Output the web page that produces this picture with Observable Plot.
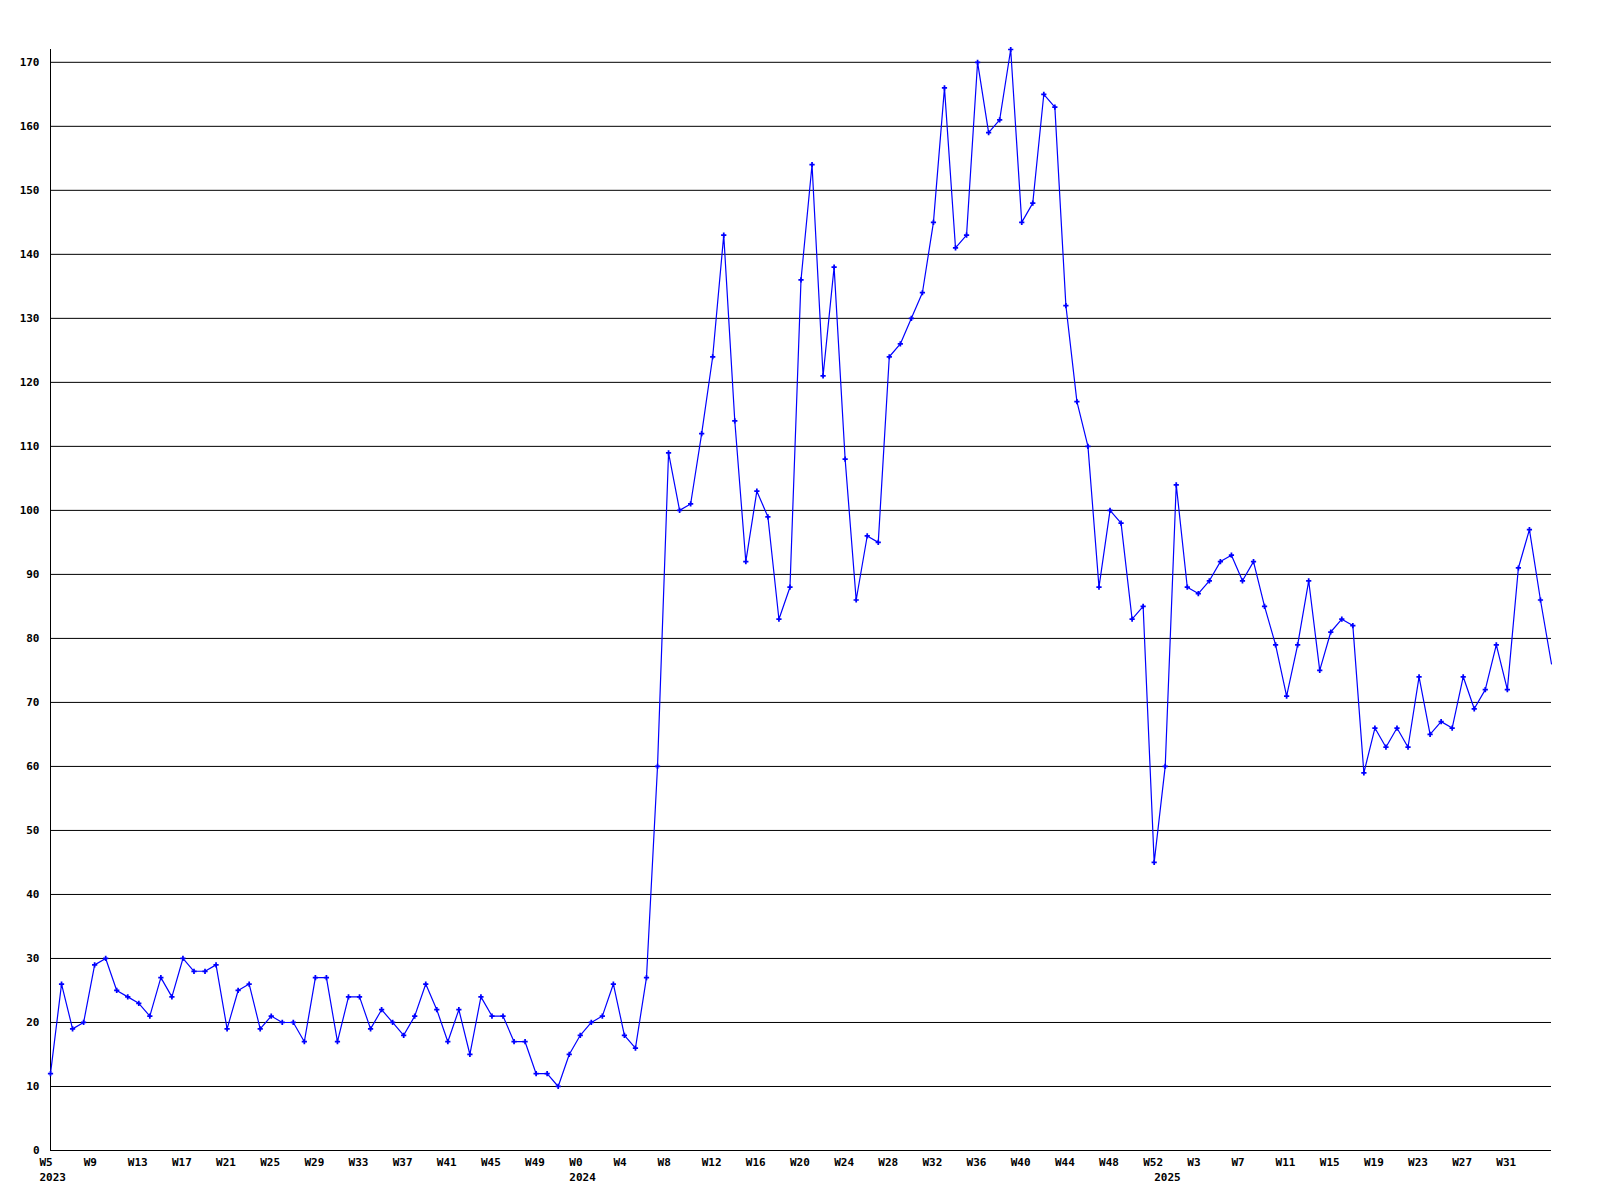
<!DOCTYPE html>
<html>
<head>
<meta charset="utf-8">
<script src="https://cdn.jsdelivr.net/npm/d3@7"></script>
<script src="https://cdn.jsdelivr.net/npm/@observablehq/plot@0.6"></script>
<style>
  html, body { margin: 0; padding: 0; background: #ffffff; }
  #chart svg { display: block; }
</style>
</head>
<body>
<div id="chart"></div>
<script>
// Weekly values, 2023 W5 .. W52
const values2023 = [12, 26, 19, 20, 29, 30, 25, 24, 23, 21, 27, 24, 30, 28, 28, 29, 19, 25, 26, 19,
  21, 20, 20, 17, 27, 27, 17, 24, 24, 19, 22, 20, 18, 21, 26, 22, 17, 22, 15, 24,
  21, 21, 17, 17, 12, 12, 10, 15];
// 2024 W0 .. W52
const values2024 = [18, 20, 21, 26, 18, 16, 27, 60, 109, 100, 101, 112, 124, 143, 114, 92, 103, 99, 83, 88,
  136, 154, 121, 138, 108, 86, 96, 95, 124, 126, 130, 134, 145, 166, 141, 143, 170, 159, 161, 172,
  145, 148, 165, 163, 132, 117, 110, 88, 100, 98, 83, 85, 45];
// 2025 W0 .. W35
const values2025 = [60, 104, 88, 87, 89, 92, 93, 89, 92, 85, 79, 71, 79, 89, 75, 81, 83, 82, 59, 66,
  63, 66, 63, 74, 65, 67, 66, 74, 69, 72, 79, 72, 91, 97, 86, 76];

const tickLabels = ["W5", "W9", "W13", "W17", "W21", "W25", "W29", "W33", "W37", "W41", "W45", "W49",
  "W0", "W4", "W8", "W12", "W16", "W20", "W24", "W28", "W32", "W36", "W40", "W44", "W48", "W52",
  "W3", "W7", "W11", "W15", "W19", "W23", "W27", "W31"];
const yearLabels = ["2023", "2024", "2025"];
const yTicks = [0, 10, 20, 30, 40, 50, 60, 70, 80, 90, 100, 110, 120, 130, 140, 150, 160, 170];

const series = [values2023, values2024, values2025];
const data = [];
const yearStarts = [];
series.forEach((arr, k) => {
  yearStarts.push({i: data.length, label: yearLabels[k]});
  arr.forEach(v => data.push({i: data.length, v}));
});
const lastIndex = data.length - 1;
const tickIdx = tickLabels.map((_, k) => k * 4);

const chart = Plot.plot({
  width: 1600,
  height: 1200,
  marginLeft: 50,
  marginRight: 49,
  marginTop: 49,
  marginBottom: 50,
  style: {fontFamily: "'DejaVu Sans Mono', monospace", fontSize: "11px", fontWeight: "bold", background: "#ffffff", color: "#000"},
  x: {type: "linear", domain: [0, lastIndex]},
  y: {type: "linear", domain: [0, 172]},
  marks: [
    Plot.gridY(yTicks.filter(d => d > 0), {stroke: "#000", strokeOpacity: 1, strokeWidth: 1}),
    Plot.axisY(yTicks, {tickSize: 0, tickPadding: 11, label: null, fill: "#000", fontWeight: "bold"}),
    Plot.axisX(tickIdx, {tickSize: 0, tickPadding: 8, tickFormat: i => tickLabels[i / 4], textAnchor: "start", dx: -11, label: null, fill: "#000"}),
    Plot.text(yearStarts, {x: "i", text: "label", frameAnchor: "bottom", textAnchor: "start", dx: -11, dy: 30, fill: "#000"}),
    Plot.ruleX([0], {stroke: "#000", strokeWidth: 1}),
    Plot.ruleY([0], {stroke: "#000", strokeWidth: 1}),
    Plot.line(data, {x: "i", y: "v", stroke: "#0000ff", strokeWidth: 1.2}),
    Plot.dot(data.filter(d => d.i < lastIndex), {x: "i", y: "v", symbol: "cross", r: 2.2, fill: "#0000ff", stroke: "none"})
  ]
});
document.getElementById("chart").appendChild(chart);
</script>
</body>
</html>
